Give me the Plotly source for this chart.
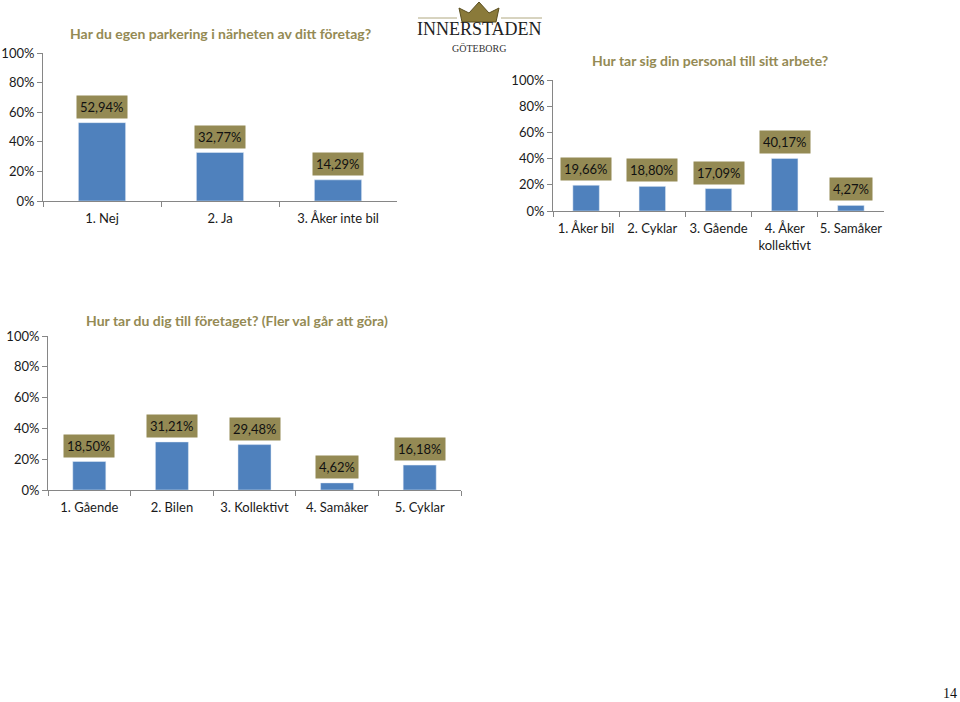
import plotly.graph_objects as go

W, H = 960, 702

# Data
cats1 = ["1. Nej", "2. Ja", "3. Åker inte bil"]
vals1 = [52.94, 32.77, 14.29]
title1 = "Har du egen parkering i närheten av ditt företag?"

cats2 = ["1. Åker bil", "2. Cyklar", "3. Gående", "4. Åker<br>kollektivt", "5. Samåker"]
vals2 = [19.66, 18.80, 17.09, 40.17, 4.27]
title2 = "Hur tar sig din personal till sitt arbete?"

cats3 = ["1. Gående", "2. Bilen", "3. Kollektivt", "4. Samåker", "5. Cyklar"]
vals3 = [18.50, 31.21, 29.48, 4.62, 16.18]
title3 = "Hur tar du dig till företaget? (Fler val går att göra)"

yticks = [0, 20, 40, 60, 80, 100]
ytick_text = ["0%", "20%", "40%", "60%", "80%", "100%"]

BAR = "#4F81BD"
OLIVE = "#948A54"
FONT = "Lato"

def px_x(v):
    return v / W

def px_y(v):
    return 1 - v / H

fig = go.Figure()

charts = [
    (cats1, vals1, title1, (43, 397), (53, 201), (220, 33)),
    (cats2, vals2, title2, (553, 884), (80, 211), (710, 60)),
    (cats3, vals3, title3, (48, 461), (336, 490), (237, 320)),
]

annotations = []
layout_axes = {}
for i, (cats, vals, title, (x0, x1), (y0, y1), (tx, ty)) in enumerate(charts, start=1):
    xa = "x" if i == 1 else f"x{i}"
    ya = "y" if i == 1 else f"y{i}"
    fig.add_trace(go.Bar(x=cats, y=vals, marker_color=BAR, width=0.4,
                         xaxis=xa, yaxis=ya, showlegend=False, hoverinfo="skip"))
    layout_axes[f"xaxis{'' if i == 1 else i}"] = dict(
        domain=[px_x(x0), px_x(x1)], anchor=ya, type="category",
        showline=True, linecolor="#868686", linewidth=1,
        ticks="outside", tickson="boundaries", ticklen=5, tickcolor="#868686",
        showgrid=False, zeroline=False, tickangle=0, automargin=False,
        ticklabelstandoff=5,
        tickfont=dict(family=FONT, size=13, color="#1a1a1a"),
        fixedrange=True,
    )
    layout_axes[f"yaxis{'' if i == 1 else i}"] = dict(
        domain=[px_y(y1), px_y(y0)], anchor=xa, range=[0, 100],
        tickvals=yticks, ticktext=ytick_text,
        showline=True, linecolor="#868686", linewidth=1,
        ticks="outside", ticklen=5, tickcolor="#868686",
        showgrid=False, zeroline=False, automargin=False,
        tickfont=dict(family=FONT, size=13, color="#1a1a1a"),
        fixedrange=True,
    )
    for c, v in zip(cats, vals):
        annotations.append(dict(
            x=c, y=v, xref=xa, yref=ya, text=f"{v:.2f}%".replace(".", ","),
            showarrow=False, xanchor="center", yanchor="bottom", yshift=4,
            bgcolor=OLIVE, borderpad=3,
            font=dict(family=FONT, size=13, color="#111111"),
        ))
    annotations.append(dict(
        x=px_x(tx), y=px_y(ty), xref="paper", yref="paper", text=f"<b>{title}</b>",
        showarrow=False, xanchor="center", yanchor="middle",
        font=dict(family=FONT, size=14, color=OLIVE),
    ))

# Logo text
annotations.append(dict(x=px_x(479), y=px_y(41), xref="paper", yref="paper",
                        text="INNERSTADEN", showarrow=False, xanchor="center", yanchor="bottom",
                        font=dict(family="Liberation Serif", size=18, color="#222222")))
annotations.append(dict(x=px_x(479), y=px_y(41), xref="paper", yref="paper",
                        text="GÖTEBORG", showarrow=False, xanchor="center", yanchor="top",
                        font=dict(family="Liberation Serif", size=10, color="#333333")))
# Page number
annotations.append(dict(x=px_x(950), y=px_y(693), xref="paper", yref="paper",
                        text="14", showarrow=False, xanchor="center", yanchor="middle",
                        font=dict(family="Liberation Serif", size=14, color="#111111")))

shapes = [
    # simple crown
    dict(type="path", xref="paper", yref="paper",
         path=f"M {px_x(462)},{px_y(22)} L {px_x(459)},{px_y(8)} L {px_x(469)},{px_y(13)} "
              f"L {px_x(479)},{px_y(2)} L {px_x(489)},{px_y(13)} L {px_x(499)},{px_y(8)} "
              f"L {px_x(496)},{px_y(22)} Z",
         fillcolor="#8a7a3a", line=dict(color="#5a4e20", width=1)),
    dict(type="line", xref="paper", yref="paper",
         x0=px_x(418), x1=px_x(457), y0=px_y(18), y1=px_y(18),
         line=dict(color="#b0a880", width=1)),
    dict(type="line", xref="paper", yref="paper",
         x0=px_x(501), x1=px_x(542), y0=px_y(18), y1=px_y(18),
         line=dict(color="#b0a880", width=1)),
]

fig.update_layout(
    width=W, height=H, margin=dict(l=0, r=0, t=0, b=0, autoexpand=False),
    paper_bgcolor="white", plot_bgcolor="white",
    annotations=annotations, shapes=shapes, bargap=0.6,
    **layout_axes,
)

fig.write_html("out.html")
